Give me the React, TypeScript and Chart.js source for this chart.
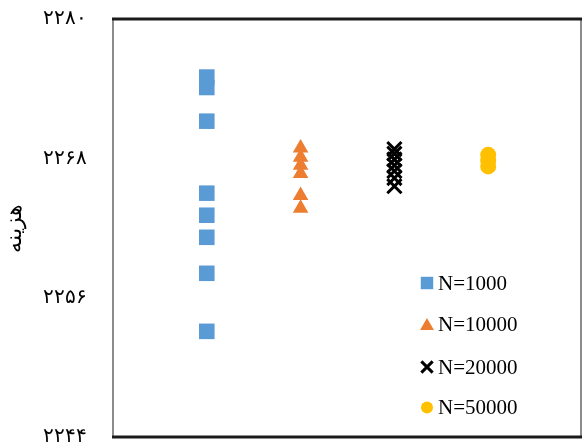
import React, { useEffect, useRef } from "react";
import { Chart, registerables } from "chart.js";
import { drawPoint } from "chart.js/helpers";

Chart.register(...registerables);

const seriesLabels = ["N=1000", "N=10000", "N=20000", "N=50000"];
const seriesX = [1, 2, 3, 4];
const n1000 = [2275, 2274.1, 2271.2, 2265, 2263.1, 2261.2, 2258.1, 2253.1];
const n10000 = [2268.9, 2268.1, 2267.4, 2266.7, 2264.8, 2263.7];
const n20000 = [2268.8, 2268.4, 2267.9, 2267.4, 2266.9, 2266.3, 2265.6];
const n50000 = [2268.3, 2267.8, 2267.3];
const yTicks = [2244, 2256, 2268, 2280];
const yTitle = "هزینه";

const colors = ["#5B9BD5", "#ED7D31", "#000000", "#FFC000"];
const styles = ["rect", "triangle", "crossRot", "circle"];
const radii = [11, 9, 10, 8];
const legendRadii = [8.8, 8, 8, 6];

const persian = (v: number | string) =>
  String(v).replace(/[0-9]/g, (d) => "۰۱۲۳۴۵۶۷۸۹"[Number(d)]);

const serif = "'Times New Roman', 'Liberation Serif', 'DejaVu Serif', serif";

const framePlugin = {
  id: "frame",
  beforeDatasetsDraw(chart: any) {
    const { ctx, chartArea: a } = chart;
    ctx.save();
    ctx.strokeStyle = "#8c8c8c";
    ctx.lineWidth = 2;
    ctx.beginPath();
    ctx.moveTo(a.left, a.top);
    ctx.lineTo(a.left, a.bottom);
    ctx.moveTo(a.right - 1, a.top);
    ctx.lineTo(a.right - 1, a.bottom);
    ctx.stroke();
    ctx.strokeStyle = "#1a1a1a";
    ctx.lineWidth = 3;
    ctx.beginPath();
    ctx.moveTo(a.left - 1, a.top);
    ctx.lineTo(a.right, a.top);
    ctx.moveTo(a.left - 1, a.bottom);
    ctx.lineTo(a.right, a.bottom);
    ctx.stroke();
    ctx.restore();
  },
};

const legendPlugin = {
  id: "customLegend",
  afterDraw(chart: any) {
    const { ctx } = chart;
    const mx = 427;
    const tx = 438;
    const rowY = [283, 324, 367, 407.5];
    ctx.save();
    chart.data.datasets.forEach((ds: any, i: number) => {
      const y = rowY[i];
      ctx.fillStyle = colors[i];
      ctx.strokeStyle = colors[i];
      const isCross = styles[i] === "crossRot";
      ctx.lineWidth = isCross ? 3 : 1;
      const py = styles[i] === "triangle" ? y + 2 : y;
      drawPoint(
        ctx,
        {
          pointStyle: styles[i],
          radius: legendRadii[i],
          rotation: 0,
          borderWidth: isCross ? 3 : 0,
        } as any,
        mx,
        py
      );
      ctx.fillStyle = "#000";
      ctx.font = `21px ${serif}`;
      ctx.textBaseline = "middle";
      ctx.textAlign = "left";
      ctx.fillText(ds.label, tx, y + 1);
    });
    ctx.restore();
  },
};

export default function App() {
  const ref = useRef<HTMLCanvasElement>(null);
  useEffect(() => {
    if (!ref.current) return;
    const all = [n1000, n10000, n20000, n50000];
    const chart = new Chart(ref.current, {
      type: "scatter",
      data: {
        datasets: all.map((vals, i) => ({
          label: seriesLabels[i],
          data: vals.map((v) => ({ x: seriesX[i], y: v })),
          pointStyle: styles[i] as any,
          pointRadius: radii[i],
          pointHoverRadius: radii[i],
          backgroundColor: colors[i],
          borderColor: colors[i],
          pointBorderWidth: styles[i] === "crossRot" ? 3 : 0,
        })),
      },
      options: {
        responsive: false,
        animation: false,
        layout: { autoPadding: false, padding: { left: 0, top: 19, right: 1, bottom: 8 } },
        plugins: {
          legend: { display: false },
          tooltip: { enabled: false },
        },
        scales: {
          x: {
            type: "linear",
            min: 0,
            max: 5,
            display: false,
          },
          y: {
            type: "linear",
            min: 2244,
            max: 2280,
            afterBuildTicks: (scale: any) => {
              scale.ticks = yTicks.map((v) => ({ value: v }));
            },
            afterFit: (scale: any) => {
              scale.width = 113;
              scale.paddingTop = 0;
              scale.paddingBottom = 0;
            },
            grid: { display: false, drawTicks: false },
            border: { display: false },
            ticks: {
              padding: 26,
              color: "#000",
              font: { family: serif, size: 20, lineHeight: 0.5 },
              callback: (v: any) => persian(v),
            },
            title: {
              display: true,
              text: yTitle,
              color: "#000",
              font: { family: serif, size: 22 },
              padding: { top: 2, bottom: 0 },
            },
          },
        },
      },
      plugins: [framePlugin, legendPlugin],
    });
    return () => chart.destroy();
  }, []);
  return (
    <div style={{ position: "fixed", left: 0, top: 0, width: 583, height: 445, background: "#fff" }}>
      <canvas ref={ref} width={583} height={445} />
    </div>
  );
}
